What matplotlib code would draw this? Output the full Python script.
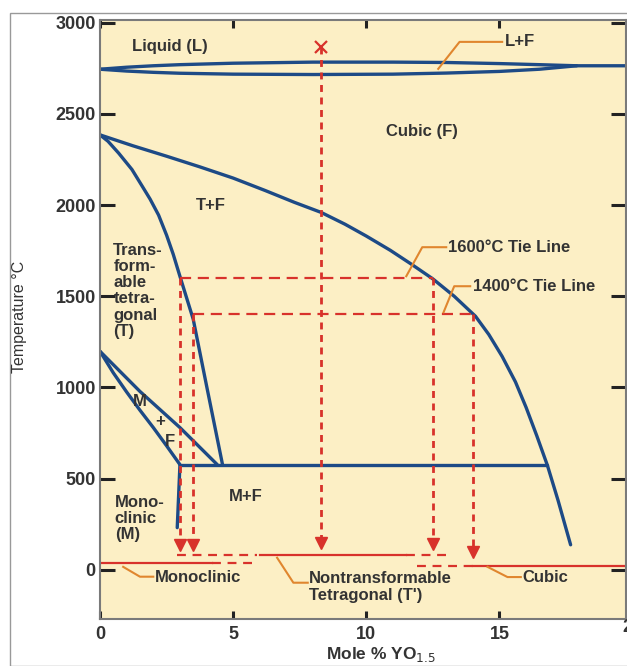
import matplotlib.pyplot as plt
from matplotlib.patches import Rectangle

# phase boundaries (mole % YO1.5, temperature C)
liq_up_x = [0, 1, 2, 3, 5, 8, 11, 13, 15, 16.5, 17.9, 19.75]
liq_up_t = [2745, 2756, 2764, 2770, 2778, 2784, 2784, 2782, 2776, 2770, 2764, 2764]
liq_lo_x = [0, 1, 2, 3, 5, 8, 11, 13, 15, 16.5, 17.9]
liq_lo_t = [2745, 2735, 2728, 2723, 2718, 2716, 2718, 2724, 2733, 2745, 2764]

cub_x = [0, 1.24, 2.5, 3.76, 5.0, 6.2, 7.3, 8.3, 9.2, 10.0, 10.9, 11.7, 12.5,
         13.3, 14.1, 14.6, 15.1, 15.6, 16.0, 16.4, 16.8, 17.2, 17.67]
cub_t = [2385, 2325, 2268, 2209, 2148, 2080, 2015, 1960, 1895, 1830, 1752, 1675, 1595,
         1500, 1390, 1290, 1170, 1030, 890, 735, 572, 380, 137]

tet_x = [0, 0.3, 0.7, 1.2, 1.6, 1.88, 2.2, 2.5, 2.75, 3.0, 3.5, 4.0, 4.6]
tet_t = [2385, 2350, 2285, 2195, 2100, 2033, 1945, 1835, 1730, 1610, 1374, 1010, 577]

mf_up_x = [0, 1.5, 3.0, 4.4]
mf_up_t = [1198, 978, 780, 577]
mf_lo_x = [0, 0.5, 1.0, 1.5, 2.0, 2.5, 3.0]
mf_lo_t = [1198, 1080, 975, 875, 780, 680, 577]

eut_x = [3.0, 16.8]
eut_t = [572, 572]
mono_x = [3.0, 2.95, 2.9]
mono_t = [572, 400, 231]

# red construction lines
quench_x = [3.0, 3.5, 8.3, 12.5, 14.0]
quench_top = [1600, 1400, 2868, 1600, 1400]
quench_tip = [90, 90, 100, 95, 50]
tie_t = [1600, 1400]
tie_x0 = [3.0, 3.5]
tie_x1 = [12.5, 14.0]

blue = '#1d4a86'
red = '#d8322b'
orange = '#e0862e'
txt = '#333333'

plt.rcParams['font.family'] = ['Liberation Sans', 'DejaVu Sans']

fig = plt.figure(figsize=(6.27, 6.66), dpi=100)
ax = fig.add_axes([100/627, 1-619/666, 526/627, 599/666])
ax.set_facecolor('#fcefc5')
ax.set_xlim(0, 19.75)
ax.set_ylim(-270, 3015)

fig.patches.append(Rectangle((10/627, 0), 1, 1-13/666, transform=fig.transFigure,
                             fill=False, edgecolor='#999999', lw=1))

for s in ax.spines.values():
    s.set_color('#7a7a7a')
    s.set_linewidth(1.5)

lw = 2.4
for bx, bt in [(liq_up_x, liq_up_t), (liq_lo_x, liq_lo_t), (cub_x, cub_t),
               (tet_x, tet_t), (mf_up_x, mf_up_t), (mf_lo_x, mf_lo_t),
               (eut_x, eut_t), (mono_x, mono_t)]:
    ax.plot(bx, bt, color=blue, lw=lw, solid_joinstyle='round', solid_capstyle='round')

# tie lines and quench arrows
for t, a, b in zip(tie_t, tie_x0, tie_x1):
    ax.plot([a, b], [t, t], color=red, lw=1.6, dashes=(5, 3))
for x, top, tip in zip(quench_x, quench_top, quench_tip):
    ax.plot([x, x], [top, tip + 60], color=red, lw=2, dashes=(2.5, 2))
    ax.plot(x, tip + 45, marker='v', color=red, ms=8, mec=red)
ax.plot(8.3, 2868, marker='x', color=red, ms=8, mew=1.6)

# room temperature phases
ax.plot([0, 4.2], [38, 38], color=red, lw=1.6)
ax.plot([4.2, 5.8], [38, 38], color=red, lw=1.6, dashes=(4, 3))
ax.plot([2.9, 5.9], [82, 82], color=red, lw=1.6, dashes=(4, 3))
ax.plot([6.0, 11.5], [82, 82], color=red, lw=1.6)
ax.plot([11.5, 13.2], [82, 82], color=red, lw=1.6, dashes=(4, 3))
ax.plot([11.9, 14.0], [18, 18], color=red, lw=1.6, dashes=(4, 3))
ax.plot([14.0, 19.75], [18, 18], color=red, lw=1.6)

# leader lines
leaders = [([12.7, 13.5, 15.1], [2747, 2895, 2895]),
           ([11.5, 12.1, 13.0], [1610, 1769, 1769]),
           ([12.9, 13.3, 13.9], [1412, 1555, 1555]),
           ([0.87, 1.5, 2.0], [16, -38, -38]),
           ([6.65, 7.26, 7.8], [66, -71, -71]),
           ([14.55, 15.3, 15.8], [16, -40, -40])]
for lx, lt in leaders:
    ax.plot(lx, lt, color=orange, lw=1.5)

fs = 12
kw = dict(fontsize=fs, fontweight='bold', color=txt, va='center', ha='left')
ax.text(1.2, 2868, 'Liquid (L)', **kw)
ax.text(15.2, 2895, 'L+F', **kw)
ax.text(10.75, 2405, 'Cubic (F)', **kw)
ax.text(3.6, 1995, 'T+F', **kw)
ax.text(13.05, 1769, '1600°C Tie Line', **kw)
ax.text(14.0, 1555, '1400°C Tie Line', **kw)
ax.text(0.5, 1530, 'Trans-\nform-\nable\ntetra-\ngonal\n(T)', linespacing=1.1, **kw)
ckw = dict(ha='center', va='center', fontsize=fs, fontweight='bold', color=txt)
ax.text(1.5, 923, 'M', **ckw)
ax.text(2.26, 813, '+', **ckw)
ax.text(2.63, 703, 'F', **ckw)
ax.text(4.85, 401, 'M+F', **kw)
ax.text(0.55, 280, 'Mono-\nclinic\n(M)', linespacing=1.1, **kw)
ax.text(2.05, -40, 'Monoclinic', **kw)
ax.text(7.85, -95, 'Nontransformable\nTetragonal (T\')', linespacing=1.15, **kw)
ax.text(15.85, -40, 'Cubic', **kw)

# ticks
ax.set_xticks([0, 5, 10, 15])
ax.set_yticks([0, 500, 1000, 1500, 2000, 2500, 3000])
ax.tick_params(direction='in', length=6, width=2.2, color='#222222',
               labelsize=13, top=True, right=True, pad=5)
ax.tick_params(axis='y', length=11, pad=3)
for lab in ax.get_xticklabels() + ax.get_yticklabels():
    lab.set_fontweight('bold')
    lab.set_color(txt)
ax.text(20, -270, '20', ha='center', va='top', fontsize=13, fontweight='bold',
        color=txt, clip_on=False)

fig.text(20/627, 1-317/666, 'Temperature °C', rotation=90, ha='center', va='center',
         fontsize=11.5, color=txt)
fig.text(381/627, 1-655/666, 'Mole % YO$_{1.5}$', ha='center', va='center',
         fontsize=12.5, fontweight='bold', color=txt)

fig.savefig('out.png', dpi=100)
